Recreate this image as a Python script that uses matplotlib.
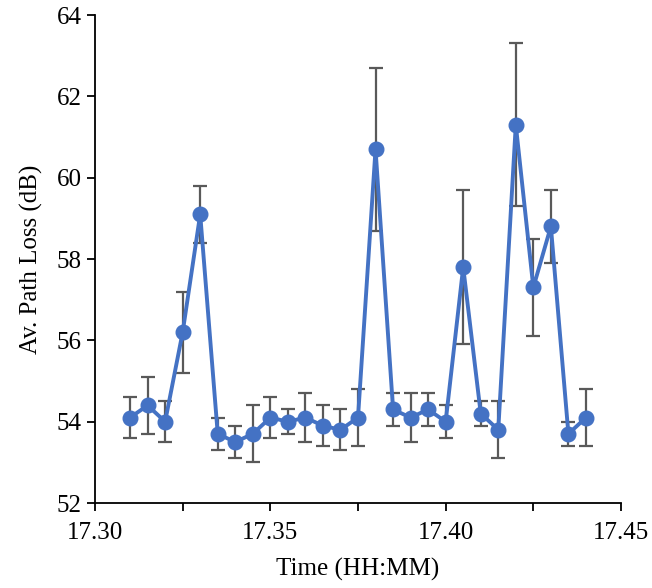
import matplotlib
matplotlib.use('Agg')
import matplotlib.pyplot as plt
from matplotlib.ticker import MultipleLocator

plt.rcParams['font.family'] = ['Liberation Serif', 'DejaVu Serif']

time = [17.310, 17.315, 17.320, 17.325, 17.330, 17.335, 17.340, 17.345, 17.350,
        17.355, 17.360, 17.365, 17.370, 17.375, 17.380, 17.385, 17.390, 17.395,
        17.400, 17.405, 17.410, 17.415, 17.420, 17.425, 17.430, 17.435, 17.440]
path_loss = [54.1, 54.4, 54.0, 56.2, 59.1, 53.7, 53.5, 53.7, 54.1,
             54.0, 54.1, 53.9, 53.8, 54.1, 60.7, 54.3, 54.1, 54.3,
             54.0, 57.8, 54.2, 53.8, 61.3, 57.3, 58.8, 53.7, 54.1]
err = [0.5, 0.7, 0.5, 1.0, 0.7, 0.4, 0.4, 0.7, 0.5,
       0.3, 0.6, 0.5, 0.5, 0.7, 2.0, 0.4, 0.6, 0.4,
       0.4, 1.9, 0.3, 0.7, 2.0, 1.2, 0.9, 0.3, 0.7]

fig = plt.figure(figsize=(6.52, 5.88), dpi=100)
ax = fig.add_axes([95/652, 85/588, 526/652, 488/588])

ax.errorbar(time, path_loss, yerr=err, fmt='none', ecolor='#595959',
            elinewidth=1.6, capsize=5, capthick=1.6, zorder=2)
ax.plot(time, path_loss, color='#4472C4', linewidth=2.8, marker='o',
        markersize=10.5, zorder=3)

ax.set_xlim(17.30, 17.45)
ax.set_ylim(52, 64)
ax.xaxis.set_major_locator(MultipleLocator(0.05))
ax.xaxis.set_minor_locator(MultipleLocator(0.025))
ax.yaxis.set_major_locator(MultipleLocator(2))
ax.set_xticklabels([f'{v:.2f}' for v in ax.get_xticks()])

for s in ['top', 'right']:
    ax.spines[s].set_visible(False)
for s in ['left', 'bottom']:
    ax.spines[s].set_linewidth(1.3)
ax.tick_params(which='both', direction='out', length=6, width=1.3, labelsize=18)
ax.tick_params(axis='x', pad=8)

ax.set_xlabel('Time (HH:MM)', fontsize=18, labelpad=10)
ax.set_ylabel('Av. Path Loss (dB)', fontsize=18, labelpad=10)

fig.savefig('out.png', dpi=100)
